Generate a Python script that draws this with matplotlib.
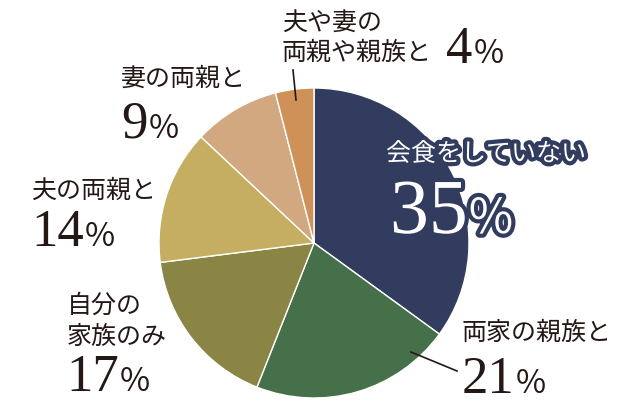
import matplotlib
matplotlib.use("Agg")
import matplotlib.pyplot as plt
import matplotlib.patheffects as pe

plt.rcParams['font.family'] = ['Noto Sans CJK JP', 'DejaVu Sans']

# データ
labels = ['会食をしていない', '両家の親族と', '自分の\n家族のみ', '夫の両親と', '妻の両親と', '夫や妻の\n両親や親族と']
values = [35, 21, 17, 14, 9, 4]
colors = ['#323c5e', '#46704a', '#8a8545', '#c5ae61', '#d1a87f', '#d09158']

W, H = 630, 413
fig = plt.figure(figsize=(W / 100, H / 100), dpi=100)
ax = fig.add_axes([0, 0, 1, 1])

# 円グラフ (y軸反転のため counterclock=True で時計回り表示)
ax.pie(values, colors=colors, startangle=-90, counterclock=True,
       center=(314, 243), radius=155, frame=True,
       wedgeprops=dict(edgecolor='white', linewidth=1.0))
ax.set_xlim(0, W)
ax.set_ylim(H, 0)
ax.axis('off')

ink = '#231815'
fig.canvas.draw()
r = fig.canvas.get_renderer()


def pct(x, y, v, size, color=ink, effects=None):
    t = ax.text(x, y, str(v), fontsize=size, family='Liberation Serif',
                color=color, va='baseline', ha='left', path_effects=effects)
    bb = t.get_window_extent(r)
    x2 = ax.transData.inverted().transform((bb.x1, bb.y0))[0]
    ax.text(x2 + 1, y, '%', fontsize=size * 0.62, color=color, va='baseline',
            ha='left', path_effects=effects)


# 会食をしていない
outline = [pe.withStroke(linewidth=6, foreground='#323c5e')]
ax.text(386, 154, labels[0], fontsize=18, color='white', va='center',
        ha='left', path_effects=outline)
pct(390, 233, values[0], 56, color='white', effects=outline)

# 両家の親族と
ax.text(462, 333, labels[1], fontsize=18, color=ink, va='center', ha='left')
pct(462, 393, values[1], 38)
ax.plot([411, 457], [352, 371], color=ink, lw=1.2)

# 自分の家族のみ
ax.text(67, 321, labels[2], fontsize=18, color=ink, va='center', ha='left',
        linespacing=1.25)
pct(66, 391, values[2], 38)

# 夫の両親と
ax.text(31, 191, labels[3], fontsize=18, color=ink, va='center', ha='left')
pct(31, 246, values[3], 38)

# 妻の両親と
ax.text(121, 79, labels[4], fontsize=18, color=ink, va='center', ha='left')
pct(121, 138, values[4], 38)

# 夫や妻の両親や親族と
ax.text(282, 38, labels[5], fontsize=18, color=ink, va='center', ha='left',
        linespacing=1.2)
pct(446, 63, values[5], 38)
ax.plot([293, 296], [70, 100], color=ink, lw=1.2)

fig.savefig('out.png', dpi=100, facecolor='white')
